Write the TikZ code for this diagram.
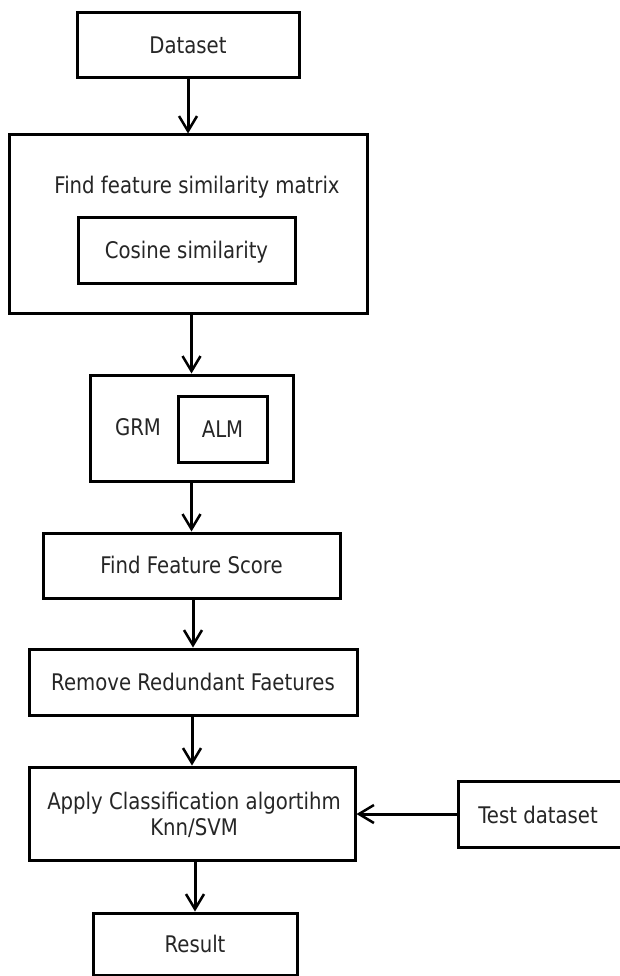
\documentclass[tikz,border=0pt]{standalone}
\usepackage{fontspec}
\setmainfont{DejaVu Sans}[FakeStretch=0.86]
\usetikzlibrary{arrows.meta}
\begin{document}
\begin{tikzpicture}[x=1pt,y=-1pt,
  box/.style={draw=black,line width=3pt,inner sep=0pt,
    font=\fontsize{22.9}{26}\selectfont,text=black!85,
    text height=16.7pt,text depth=0pt},
  lbl/.style={inner sep=0pt,font=\fontsize{22.9}{26}\selectfont,text=black!85,
    text height=16.7pt,text depth=0pt},
  flow/.style={line width=3pt,-{Straight Barb[length=15pt,width=18pt,line width=2.5pt]}}]
\useasboundingbox (0,0) rectangle (620,976);
\fill[white] (0,0) rectangle (620,976);
% nodes
\node[box,minimum width=222pt,minimum height=65pt] (data) at (188,45.5) {Dataset};
\node[box,minimum width=358pt,minimum height=178pt] (sim) at (188,224) {};
\node[lbl] (simtitle) at (197,185) {Find feature similarity matrix};
\node[box,minimum width=217pt,minimum height=65pt] (cos) at (186.5,250.5) {Cosine similarity};
\node[box,minimum width=203pt,minimum height=106pt] (grm) at (191.5,428) {};
\node[lbl] (grmlbl) at (138,427) {GRM};
\node[box,minimum width=89pt,minimum height=66pt] (alm) at (222.5,429) {ALM};
\node[box,minimum width=297pt,minimum height=65pt] (ffs) at (191.5,565.5) {Find Feature Score};
\node[box,minimum width=328pt,minimum height=66pt] (rem) at (193,682) {Remove Redundant Faetures};
\node[box,minimum width=326pt,minimum height=93pt] (apply) at (192,813.5) {};
\node[inner sep=0pt,font=\fontsize{22.9}{26}\selectfont,text=black!85,align=center] (applylbl) at (194,815) {Apply Classification algortihm\\Knn/SVM};
\node[box,minimum width=164pt,minimum height=66pt] (test) at (540,814) {};
\node[lbl] (testlbl) at (538,815) {Test dataset};
\node[box,minimum width=204pt,minimum height=62pt] (res) at (195,944) {Result};
% connectors
\draw[flow] (data.south) -- (sim.north);
\draw[flow] (grm.north |- sim.south) -- (grm.north);
\draw[flow] (ffs.north |- grm.south) -- (ffs.north);
\draw[flow] (rem.north |- ffs.south) -- (rem.north);
\draw[flow] (apply.north |- rem.south) -- (apply.north);
\draw[flow] (test.west) -- (test.west -| apply.east);
\draw[flow] (res.north |- apply.south) -- (res.north);
\end{tikzpicture}
\end{document}
